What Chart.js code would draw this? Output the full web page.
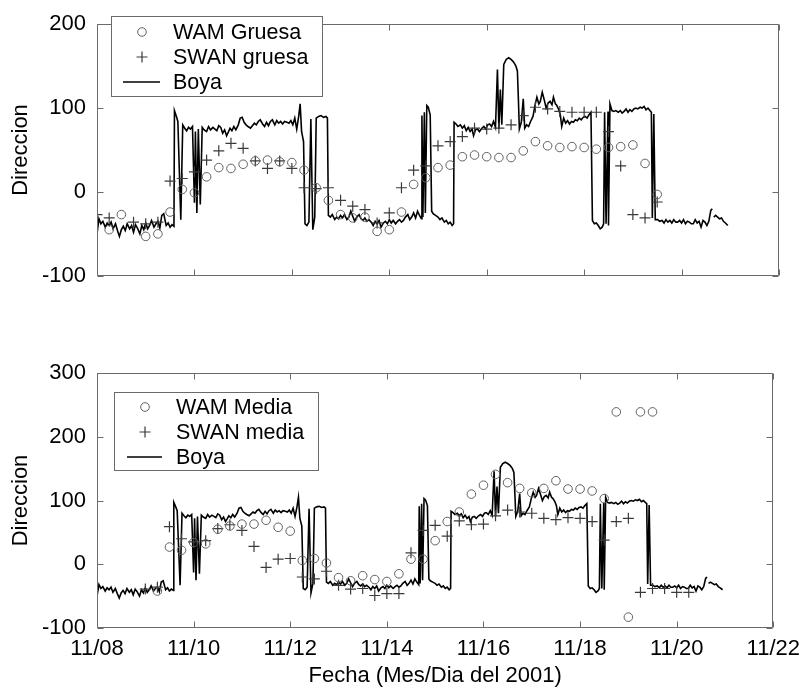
<!DOCTYPE html>
<html><head><meta charset="utf-8">
<script src="https://cdn.jsdelivr.net/npm/chart.js@4.4.0/dist/chart.umd.min.js"></script>
<style>
html,body{margin:0;padding:0;background:#fff;}
#wrap{position:relative;width:808px;height:691px;overflow:hidden;}
canvas{position:absolute;left:0;}
</style></head><body>
<div id="wrap">
<canvas id="cTop" width="808" height="300" style="top:0"></canvas>
<canvas id="cBot" width="808" height="391" style="top:300px"></canvas>
</div>
<script>
// ---- axis ticks ----
const xTicks = [8, 10, 12, 14, 16, 18, 20, 22];
const xTickLabels = ['11/08', '11/10', '11/12', '11/14', '11/16', '11/18', '11/20', '11/22'];
const yTicksTop = [-100, 0, 100, 200];
const yTicksBot = [-100, 0, 100, 200, 300];

// ---- Boya (buoy) direction, time in days of November 2001 ----
const boyaT = [8.00,8.04,8.08,8.12,8.17,8.21,8.25,8.29,8.33,8.38,8.42,8.46,8.50,8.54,8.58,8.62,8.67,8.71,8.75,8.79,8.83,8.88,8.92,8.96,
9.00,9.04,9.08,9.12,9.17,9.21,9.25,9.29,9.33,9.37,9.42,9.46,9.50,9.54,9.58,9.59,9.63,9.66,9.72,9.76,9.80,9.84,9.88,9.92,9.96,
10.00,10.02,10.05,10.08,10.12,10.16,10.20,10.25,10.29,10.33,10.38,10.42,10.46,10.50,10.54,10.58,10.62,10.66,10.70,10.73,10.77,10.81,10.85,10.90,10.94,10.98,
11.02,11.06,11.10,11.15,11.19,11.23,11.27,11.31,11.35,11.40,11.44,11.48,11.52,11.56,11.60,11.65,11.69,11.73,11.77,11.81,11.85,11.90,11.94,11.98,
12.02,12.06,12.10,12.14,12.17,12.20,12.24,12.27,12.31,12.35,12.39,12.43,12.47,12.50,12.55,12.60,12.65,12.70,12.73,12.75,12.79,12.83,12.88,12.92,12.96,
13.00,13.04,13.08,13.13,13.17,13.21,13.25,13.29,13.33,13.38,13.42,13.46,13.50,13.54,13.58,13.63,13.67,13.71,13.75,13.79,13.83,13.88,13.92,13.96,
14.00,14.04,14.08,14.13,14.17,14.21,14.25,14.29,14.33,14.38,14.42,14.46,14.50,14.54,14.58,14.62,14.66,14.67,14.69,14.72,14.74,14.77,14.80,14.84,14.87,14.90,14.95,
15.00,15.04,15.08,15.13,15.17,15.21,15.25,15.29,15.32,15.33,15.37,15.41,15.46,15.50,15.54,15.58,15.62,15.66,15.70,15.73,15.77,15.81,15.85,15.90,15.94,15.98,
16.02,16.06,16.10,16.14,16.18,16.22,16.25,16.28,16.31,16.35,16.40,16.45,16.50,16.55,16.60,16.63,16.65,16.67,16.71,16.75,16.78,16.82,16.86,16.90,16.95,16.99,
17.03,17.07,17.10,17.14,17.18,17.22,17.26,17.30,17.34,17.37,17.41,17.44,17.48,17.51,17.54,17.58,17.62,17.66,17.70,17.74,17.78,17.82,17.86,17.90,17.94,17.98,
18.02,18.06,18.10,18.14,18.17,18.21,18.25,18.29,18.33,18.37,18.40,18.42,18.45,18.49,18.50,18.53,18.57,18.61,18.65,18.70,18.74,18.78,18.82,18.86,18.90,18.94,18.98,
19.02,19.06,19.10,19.15,19.19,19.23,19.27,19.31,19.35,19.38,19.40,19.43,19.46,19.51,19.55,19.60,19.64,19.68,19.72,19.76,19.80,19.84,19.88,19.92,19.96,
20.00,20.04,20.08,20.12,20.16,20.20,20.24,20.28,20.32,20.36,20.40,20.44,20.48,20.52,20.56,20.60,20.63,20.645,20.66,20.70,20.74,20.78,20.82,20.86,20.90,20.95];
const boyaV = [-50,-32,-38,-35,-42,-37,-40,-36,-44,-38,-46,-53,-45,-41,-46,-38,-44,-40,-48,-39,-43,-50,-40,-45,
-37,-44,-40,-34,-42,-38,-35,-43,-28,-26,-40,-37,-42,-39,-41,97,90,84,-33,80,76,73,77,75,78,
-13,72,-25,75,-15,77,74,72,78,74,77,75,73,79,77,70,74,67,72,76,73,78,74,80,88,89,
83,80,78,76,79,82,80,84,86,81,78,83,79,84,86,80,85,82,84,81,84,83,82,85,
80,88,75,90,105,72,60,-38,-40,-36,87,-45,-30,88,90,91,89,90,88,-28,-30,-27,-33,-30,-32,
-28,-31,-27,-33,-30,-23,-29,-35,-30,-27,-32,-34,-31,-35,-33,-36,-40,-35,-38,-34,-42,-37,-35,-38,
-33,-37,-34,-38,-35,-33,-36,-34,-30,-27,-33,-30,-25,-31,-23,-28,-32,91,-30,95,-25,103,101,92,-23,-26,-28,
-30,-33,-31,-36,-34,-38,-36,-40,-38,83,81,78,80,76,79,73,77,72,75,67,74,75,72,76,78,75,
80,81,78,84,77,146,75,122,80,152,158,160,158,155,150,144,111,75,83,111,76,80,78,84,90,103,
113,105,108,119,110,100,106,108,104,113,105,103,98,92,78,88,82,85,81,84,83,86,85,88,86,89,
90,88,92,95,-34,-38,-37,-40,-44,-42,-38,95,-38,96,-40,105,97,96,97,95,97,94,96,99,95,98,96,
99,100,99,101,100,102,98,100,97,95,-31,93,-33,-33,-35,-34,-37,-33,-36,-34,-37,-33,-36,-36,-34,
-37,-33,-38,-35,-36,-38,-38,-33,-37,-35,-42,-34,-36,-40,-35,-22,-20,null,-30,-28,-30,-32,-31,-35,-37,-40];

// ---- top panel: coarse grid models ----
const wamGruesaT = [8.25,8.5,9.0,9.25,9.5,9.75,10.0,10.25,10.5,10.75,11.0,11.25,11.5,11.75,12.0,12.25,12.5,12.75,13.0,13.25,13.5,13.75,14.0,14.25,14.5,14.75,
15.0,15.25,15.5,15.75,16.0,16.25,16.5,16.75,17.0,17.25,17.5,17.75,18.0,18.25,18.5,18.75,19.0,19.25,19.5];
const wamGruesaV = [-45,-27,-53,-50,-24,3,-1,18,29,28,33,37,38,36,35,26,5,-10,-27,-31,-30,-47,-45,-24,9,17,
29,32,42,44,42,41,41,49,60,55,53,54,53,51,53,54,56,34,-3];
const swanGruesaT = [8.0,8.25,8.75,9.0,9.25,9.5,9.75,10.0,10.25,10.5,10.75,11.0,11.25,11.5,11.75,12.0,12.25,12.5,12.75,13.0,13.25,13.5,13.75,14.0,14.25,14.5,14.75,
15.0,15.25,15.5,15.75,16.0,16.25,16.5,16.75,17.0,17.25,17.5,17.75,18.0,18.25,18.5,18.75,19.0,19.25,19.5];
const swanGruesaV = [-27,-31,-36,-38,-36,13,16,24,38,49,58,52,37,28,37,28,5,4,5,-10,-17,-21,-37,-25,5,26,31,
55,60,66,76,75,76,80,91,101,99,96,95,95,95,72,31,-27,-31,-12];

// ---- bottom panel: medium grid models ----
const wamMediaT = [9.25,9.5,9.75,10.0,10.25,10.5,10.75,11.0,11.25,11.5,11.75,12.0,12.25,12.5,12.75,13.0,13.25,13.5,13.75,14.0,14.25,14.5,14.75,
15.0,15.25,15.5,15.75,16.0,16.25,16.5,16.75,17.0,17.25,17.5,17.75,18.0,18.25,18.5,18.75,19.0,19.25,19.5];
const wamMediaV = [-42,27,22,34,32,55,60,63,63,69,58,52,6,9,2,-21,-26,-18,-24,-27,-15,8,8,
37,67,82,110,124,141,128,119,112,119,131,118,118,115,103,239,-83,239,239];
const swanMediaT = [9.0,9.25,9.5,9.75,10.0,10.25,10.5,10.75,11.0,11.25,11.5,11.75,12.0,12.25,12.5,12.75,13.0,13.25,13.5,13.75,14.0,14.25,14.5,14.75,
15.0,15.25,15.5,15.75,16.0,16.25,16.5,16.75,17.0,17.25,17.5,17.75,18.0,18.25,18.5,18.75,19.0,19.25,19.5,19.75,20.0,20.25];
const swanMediaV = [-39,-36,59,40,35,37,56,62,53,28,-5,8,9,-20,-23,-11,-33,-39,-38,-49,-46,-46,18,53,
61,44,68,62,63,76,85,82,80,72,70,73,72,67,38,67,72,-44,-38,-38,-44,-44];

const FONT = '"Liberation Sans", Arial, Helvetica, sans-serif';
const FS = 22;
const pts = (t, v) => t.map((x, i) => ({x: x, y: v[i]}));

const matlabAxes = {
  id: 'matlabAxes',
  afterDatasetsDraw(chart, args, o) {
    const {ctx, chartArea: a} = chart;
    const xs = chart.scales.x, ys = chart.scales.y;
    ctx.save();
    ctx.strokeStyle = '#6a6a6a';
    ctx.lineWidth = 1;
    ctx.beginPath();
    const L = Math.round(a.left) + 0.5, R = Math.round(a.right) - 0.5;
    const T = Math.round(a.top) + 0.5, B = Math.round(a.bottom) - 0.5;
    ctx.moveTo(L, T); ctx.lineTo(R, T); ctx.lineTo(R, B); ctx.lineTo(L, B); ctx.closePath();
    const tl = 6;
    xTicks.forEach(v => {
      const p = Math.round(xs.getPixelForValue(v)) + 0.5;
      ctx.moveTo(p, B); ctx.lineTo(p, B - tl);
      ctx.moveTo(p, T); ctx.lineTo(p, T + tl);
    });
    o.yTicks.forEach(v => {
      const p = Math.round(ys.getPixelForValue(v)) + 0.5;
      ctx.moveTo(L, p); ctx.lineTo(L + tl, p);
      ctx.moveTo(R, p); ctx.lineTo(R - tl, p);
    });
    ctx.stroke();
    ctx.restore();
  },
  afterDraw(chart, args, o) {
    const {ctx} = chart;
    const lg = o.legend;
    ctx.save();
    ctx.fillStyle = '#fff';
    ctx.fillRect(lg.x, lg.y, lg.w, lg.h);
    ctx.strokeStyle = '#6a6a6a';
    ctx.lineWidth = 1;
    ctx.strokeRect(lg.x + 0.5, lg.y + 0.5, lg.w, lg.h);
    chart.data.datasets.forEach((ds, i) => {
      const cy = lg.row0 + i * lg.rowH;
      ctx.strokeStyle = ds.borderColor;
      ctx.lineWidth = ds.borderWidth;
      if (ds.showLine) {
        ctx.beginPath(); ctx.moveTo(lg.lineX0, cy); ctx.lineTo(lg.lineX1, cy); ctx.stroke();
      } else if (ds.pointStyle === 'circle') {
        ctx.beginPath(); ctx.arc(lg.symX, cy, ds.pointRadius, 0, Math.PI * 2); ctx.stroke();
      } else {
        const r = ds.pointRadius;
        ctx.beginPath(); ctx.moveTo(lg.symX - r, cy); ctx.lineTo(lg.symX + r, cy);
        ctx.moveTo(lg.symX, cy - r); ctx.lineTo(lg.symX, cy + r); ctx.stroke();
      }
      ctx.fillStyle = '#000';
      ctx.font = '21.5px ' + FONT;
      ctx.textAlign = 'left';
      ctx.textBaseline = 'middle';
      ctx.fillText(ds.label, lg.textX, cy + 1);
    });
    ctx.restore();
  }
};

function datasets(wamLabel, wT, wV, swanLabel, sT, sV) {
  return [
    {label: wamLabel, data: pts(wT, wV), showLine: false, pointStyle: 'circle', pointRadius: 4.3,
     borderColor: '#606060', backgroundColor: 'rgba(0,0,0,0)', borderWidth: 1, clip: 0},
    {label: swanLabel, data: pts(sT, sV), showLine: false, pointStyle: 'cross', pointRadius: 5.5,
     borderColor: '#3a3a3a', backgroundColor: 'rgba(0,0,0,0)', borderWidth: 1.2, clip: 0},
    {label: 'Boya', data: pts(boyaT, boyaV), showLine: true, spanGaps: false, pointRadius: 0,
     borderColor: '#000', borderWidth: 1.6, tension: 0, clip: 0}
  ];
}

function yScale(min, max, ticks) {
  return {
    type: 'linear', min: min, max: max,
    afterBuildTicks: s => { s.ticks = ticks.map(v => ({value: v})); },
    afterFit: s => { s.width = 97; },
    grid: {display: false, drawTicks: false},
    border: {display: false},
    ticks: {color: '#000', font: {family: FONT, size: FS}, padding: 11},
    title: {display: true, text: 'Direccion', color: '#000', font: {family: FONT, size: FS}, padding: {top: 8, bottom: 0}}
  };
}

new Chart(document.getElementById('cTop'), {
  type: 'scatter',
  data: {datasets: datasets('WAM Gruesa', wamGruesaT, wamGruesaV, 'SWAN gruesa', swanGruesaT, swanGruesaV)},
  options: {
    responsive: false, animation: false, events: [],
    layout: {padding: {top: 23, right: 29, bottom: 22, left: 0}},
    scales: {
      x: {type: 'linear', min: 8, max: 22, display: false},
      y: yScale(-100, 200, yTicksTop)
    },
    plugins: {
      legend: {display: false}, tooltip: {enabled: false},
      matlabAxes: {yTicks: yTicksTop,
        legend: {x: 111, y: 16, w: 211, h: 80, row0: 32, rowH: 25, symX: 142, lineX0: 123, lineX1: 160, textX: 173}}
    }
  },
  plugins: [matlabAxes]
});

new Chart(document.getElementById('cBot'), {
  type: 'scatter',
  data: {datasets: datasets('WAM Media', wamMediaT, wamMediaV, 'SWAN media', swanMediaT, swanMediaV)},
  options: {
    responsive: false, animation: false, events: [],
    layout: {padding: {top: 73, right: 29, bottom: 0, left: 0}},
    scales: {
      x: {
        type: 'linear', min: 8, max: 22,
        afterBuildTicks: s => { s.ticks = xTicks.map(v => ({value: v})); },
        afterFit: s => { s.height = 63; },
        grid: {display: false, drawTicks: false},
        border: {display: false},
        ticks: {color: '#000', font: {family: FONT, size: FS}, padding: 8, maxRotation: 0,
          callback: v => xTickLabels[xTicks.indexOf(v)]},
        title: {display: true, text: 'Fecha (Mes/Dia del 2001)', color: '#000', font: {family: FONT, size: FS}, padding: {top: 0, bottom: 2}}
      },
      y: yScale(-100, 300, yTicksBot)
    },
    plugins: {
      legend: {display: false}, tooltip: {enabled: false},
      matlabAxes: {yTicks: yTicksBot,
        legend: {x: 114, y: 92, w: 204, h: 78, row0: 107, rowH: 25, symX: 145, lineX0: 127, lineX1: 162, textX: 176}}
    }
  },
  plugins: [matlabAxes]
});
</script>
</body></html>
